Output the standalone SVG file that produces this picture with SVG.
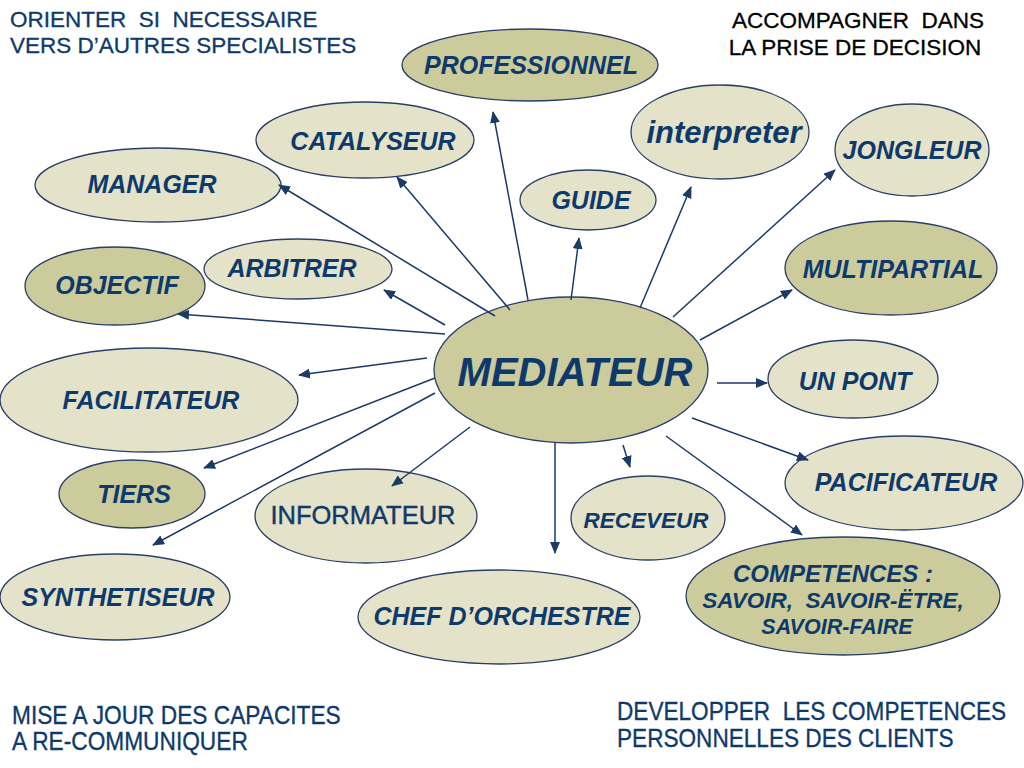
<svg xmlns="http://www.w3.org/2000/svg" width="1024" height="768" viewBox="0 0 1024 768">
<defs>
<style>
.l{fill:#e4e2c8;stroke:#2a3f66;stroke-width:1.3}
.d{fill:#cccb9c;stroke:#2a3f66;stroke-width:1.3}
.t{font-family:"Liberation Sans",Arial,sans-serif;font-style:italic;font-weight:bold;fill:#0e3a6b;text-anchor:middle}
.u{font-family:"Liberation Sans",Arial,sans-serif;fill:#0e3a6b;stroke:#0e3a6b;stroke-width:0.4;text-anchor:middle}
.h{font-family:"Liberation Sans",Arial,sans-serif;fill:#0e3a6b;stroke:#0e3a6b;stroke-width:0.3;white-space:pre}
.k{fill:#000;stroke:#000}
.c line{stroke:#1c3a66;stroke-width:1.5;marker-end:url(#a)}
</style>
<marker id="a" markerWidth="12" markerHeight="10" refX="11" refY="5" orient="auto" markerUnits="userSpaceOnUse">
<path d="M0,0 L12,5 L0,10 Z" fill="#1c3a66"/>
</marker>
</defs>
<rect width="1024" height="768" fill="#fff"/>

<g id="labels">
<text class="h" x="10" y="27" font-size="22.5">ORIENTER  SI  NECESSAIRE</text>
<text class="h" x="10" y="53" font-size="22.5">VERS D’AUTRES SPECIALISTES</text>
<text class="h k" x="858" y="28" font-size="22.5" text-anchor="middle">ACCOMPAGNER  DANS</text>
<text class="h k" x="855" y="55" font-size="22.5" text-anchor="middle">LA PRISE DE DECISION</text>
<text class="h" transform="translate(12,724) scale(1,1.12)" font-size="22.7">MISE A JOUR DES CAPACITES</text>
<text class="h" transform="translate(12,750) scale(1,1.12)" font-size="22.7">A RE-COMMUNIQUER</text>
<text class="h" transform="translate(617,720) scale(1,1.12)" font-size="22.6">DEVELOPPER  LES COMPETENCES</text>
<text class="h" transform="translate(617,747) scale(1,1.12)" font-size="22.6">PERSONNELLES DES CLIENTS</text>
</g>

<g id="mediateur"><ellipse class="d" cx="571" cy="370" rx="137" ry="73"/><text class="t" x="575" y="386" font-size="40">MEDIATEUR</text></g>
<g id="professionnel"><ellipse class="d" cx="530" cy="65" rx="128" ry="36"/><text class="t" x="531" y="74" font-size="25">PROFESSIONNEL</text></g>
<g id="catalyseur"><ellipse class="l" cx="365" cy="140" rx="109" ry="38"/><text class="t" x="373" y="150" font-size="25">CATALYSEUR</text></g>
<g id="interpreter"><ellipse class="l" cx="720" cy="132" rx="89" ry="47"/><text class="t" x="724" y="143" font-size="31">interpreter</text></g>
<g id="guide"><ellipse class="l" cx="588" cy="200" rx="68" ry="30"/><text class="t" x="591" y="209" font-size="25">GUIDE</text></g>
<g id="jongleur"><ellipse class="l" cx="912" cy="150" rx="77" ry="46"/><text class="t" x="912" y="159" font-size="25">JONGLEUR</text></g>
<g id="multipartial"><ellipse class="d" cx="891" cy="268" rx="106" ry="47"/><text class="t" x="893" y="278" font-size="25">MULTIPARTIAL</text></g>
<g id="manager"><ellipse class="l" cx="158" cy="185" rx="123" ry="37"/><text class="t" x="152" y="193" font-size="25">MANAGER</text></g>
<g id="arbitrer"><ellipse class="l" cx="298" cy="269" rx="94" ry="30"/><text class="t" x="292" y="277" font-size="25">ARBITRER</text></g>
<g id="objectif"><ellipse class="d" cx="115" cy="286" rx="90" ry="39"/><text class="t" x="117" y="294" font-size="25">OBJECTIF</text></g>
<g id="facilitateur"><ellipse class="l" cx="149" cy="400" rx="149" ry="52"/><text class="t" x="151" y="409" font-size="25">FACILITATEUR</text></g>
<g id="tiers"><ellipse class="d" cx="132" cy="494" rx="73" ry="34"/><text class="t" x="134" y="503" font-size="25">TIERS</text></g>
<g id="informateur"><ellipse class="l" cx="366" cy="516" rx="111" ry="47"/><text class="u" x="363" y="524" font-size="25.5">INFORMATEUR</text></g>
<g id="synthetiseur"><ellipse class="l" cx="115" cy="597" rx="115" ry="43"/><text class="t" x="118" y="606" font-size="25">SYNTHETISEUR</text></g>
<g id="chef"><ellipse class="l" cx="499" cy="617" rx="141" ry="47"/><text class="t" x="502" y="625" font-size="25">CHEF D’ORCHESTRE</text></g>
<g id="receveur"><ellipse class="l" cx="648" cy="518" rx="77" ry="42"/><text class="t" x="646" y="528" font-size="22.5">RECEVEUR</text></g>
<g id="unpont"><ellipse class="l" cx="853" cy="379" rx="85" ry="39"/><text class="t" x="855" y="390" font-size="25">UN PONT</text></g>
<g id="pacificateur"><ellipse class="l" cx="904" cy="483" rx="119" ry="47"/><text class="t" x="906" y="491" font-size="25">PACIFICATEUR</text></g>
<g id="competences"><ellipse class="d" cx="843" cy="596" rx="157" ry="59"/>
<text class="t" x="833" y="582" font-size="24">COMPETENCES :</text>
<text class="t" x="833" y="608" font-size="22.5" style="white-space:pre">SAVOIR,  SAVOIR-ËTRE,</text>
<text class="t" x="837" y="634" font-size="21.5">SAVOIR-FAIRE</text></g>

<g id="connectors" class="c">
<line x1="528" y1="300" x2="493" y2="112"/>
<line x1="510" y1="310" x2="397" y2="177"/>
<line x1="495" y1="316" x2="279" y2="185"/>
<line x1="445" y1="325" x2="384" y2="290"/>
<line x1="445" y1="334" x2="178" y2="314"/>
<line x1="427" y1="358" x2="299" y2="375"/>
<line x1="435" y1="378" x2="204" y2="468"/>
<line x1="435" y1="393" x2="153" y2="545"/>
<line x1="470" y1="427" x2="392" y2="486"/>
<line x1="555" y1="443" x2="555" y2="553"/>
<line x1="623" y1="445" x2="630" y2="467"/>
<line x1="666" y1="436" x2="802" y2="535"/>
<line x1="692" y1="418" x2="808" y2="460"/>
<line x1="717" y1="383" x2="767" y2="383"/>
<line x1="700" y1="340" x2="792" y2="290"/>
<line x1="673" y1="317" x2="835" y2="170"/>
<line x1="640" y1="308" x2="691" y2="187"/>
<line x1="571" y1="300" x2="579" y2="238"/>
</g>
</svg>
